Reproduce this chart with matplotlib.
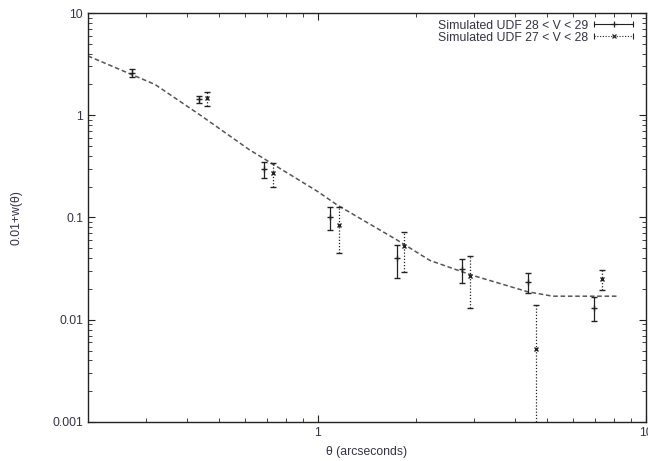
import matplotlib.pyplot as plt
from matplotlib.legend_handler import HandlerBase
from matplotlib.lines import Line2D

plt.rcParams['font.family'] = ['Liberation Sans', 'DejaVu Sans']

# simulated UDF 28 < V < 29
x1 = [0.273, 0.435, 0.689, 1.09, 1.74, 2.76, 4.37, 6.95]
y1 = [2.61, 1.43, 0.296, 0.100, 0.0404, 0.0311, 0.0236, 0.0129]
hi1 = [2.83, 1.56, 0.347, 0.126, 0.0538, 0.039, 0.0285, 0.0168]
lo1 = [2.38, 1.31, 0.245, 0.0755, 0.0258, 0.0227, 0.0182, 0.0098]

# simulated UDF 27 < V < 28
x2 = [0.46, 0.731, 1.16, 1.84, 2.91, 4.63, 7.36]
y2 = [1.47, 0.274, 0.0845, 0.053, 0.027, 0.00518, 0.025]
hi2 = [1.70, 0.345, 0.128, 0.072, 0.042, 0.0139, 0.0307]
lo2 = [1.23, 0.197, 0.0453, 0.0295, 0.0129, 0.0005, 0.0196]

# model curve
xc = [0.2, 0.32, 0.44, 0.62, 1.0, 1.15, 1.75, 2.2, 2.94, 4.36, 5.2, 8.2]
yc = [3.8, 2.0, 1.0, 0.46, 0.18, 0.132, 0.060, 0.038, 0.0274, 0.0188, 0.017, 0.017]

labels = ['Simulated UDF 28 < V < 29', 'Simulated UDF 27 < V < 28']

FS = 8.8
TXT = '#334'


class ErrKey(HandlerBase):
    # gnuplot-like key: horizontal bar with caps and a point in the middle
    def __init__(self, ls, marker, ms):
        super().__init__()
        self.ls, self.marker, self.ms = ls, marker, ms

    def create_artists(self, legend, orig_handle, xdescent, ydescent,
                       width, height, fontsize, trans):
        y = height / 2 - ydescent
        x0, x1_ = -xdescent, width - xdescent
        bar = Line2D([x0, x1_], [y, y], ls=self.ls, color='#222', lw=0.8)
        caps = Line2D([x0, x1_], [y, y], ls='none', marker='|', ms=5,
                      mew=0.8, color='#222')
        pt = Line2D([(x0 + x1_) / 2], [y], ls='none', marker=self.marker,
                    ms=self.ms, mew=0.9, color='#222')
        for a in (bar, caps, pt):
            a.set_transform(trans)
        return [bar, caps, pt]


fig = plt.figure(figsize=(6.48, 4.61), dpi=100)
ax = fig.add_axes([0.1358, 0.0846, 0.861, 0.8872])

ax.plot(xc, yc, color='#555', lw=1.1, ls=(0, (3, 1.8)))

err1 = [[y - l for y, l in zip(y1, lo1)], [h - y for y, h in zip(y1, hi1)]]
err2 = [[y - l for y, l in zip(y2, lo2)], [h - y for y, h in zip(y2, hi2)]]

e1 = ax.errorbar(x1, y1, yerr=err1, fmt='+', color='#222', ms=4, mew=1.0,
                 elinewidth=0.9, capsize=2.5, capthick=0.8)
e2 = ax.errorbar(x2, y2, yerr=err2, fmt='x', color='#222', ms=3.5, mew=1.0,
                 elinewidth=0.9, capsize=2.5, capthick=0.8)
e2[2][0].set_linestyle((0, (1, 1.5)))

ax.set_xscale('log')
ax.set_yscale('log')
ax.set_xlim(0.2, 10)
ax.set_ylim(0.001, 10)

ax.set_xticks([1, 10])
ax.set_xticklabels(['1', '10'])
ax.set_yticks([0.001, 0.01, 0.1, 1, 10])
ax.set_yticklabels(['0.001', '0.01', '0.1', '1', '10'])

ax.tick_params(which='both', direction='in', top=True, right=True,
               labelsize=FS, colors='#222', labelcolor=TXT)
ax.tick_params(which='major', length=5, width=0.8)
ax.tick_params(which='minor', length=3, width=0.6)
for s in ax.spines.values():
    s.set_linewidth(1.0)
    s.set_color('#222')

ax.set_xlabel('θ (arcseconds)', fontsize=FS, color=TXT, labelpad=5)
ax.set_ylabel('0.01+w(θ)', fontsize=FS, color=TXT)
ax.yaxis.set_label_coords(-0.118, 0.5)

ax.legend([e1, e2], labels, loc='upper right', bbox_to_anchor=(0.986, 0.996),
          frameon=False, fontsize=FS, markerfirst=False, handlelength=3.2,
          handletextpad=0.5, labelspacing=0.0, borderaxespad=0,
          handler_map={e1: ErrKey('-', '+', 4), e2: ErrKey((0, (1, 1.5)), 'x', 3.5)},
          labelcolor=TXT)

fig.savefig('out.png', dpi=100)
